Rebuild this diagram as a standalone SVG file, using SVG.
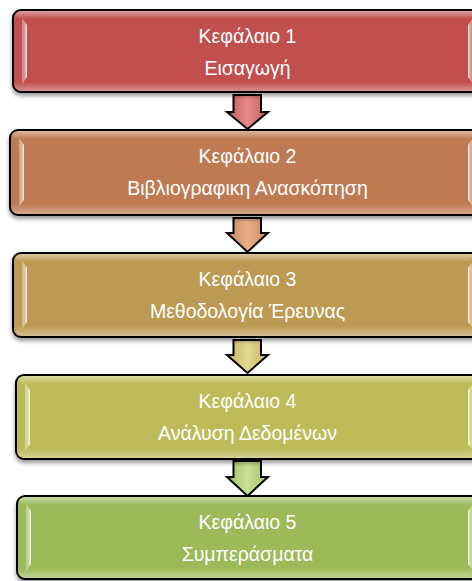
<svg xmlns="http://www.w3.org/2000/svg" width="472" height="581" viewBox="0 0 472 581">
  <defs>
    <filter id="shadow" x="-5%" y="-10%" width="110%" height="130%">
      <feDropShadow dx="0" dy="3" stdDeviation="2" flood-color="#000" flood-opacity="0.4"/>
    </filter>
    <!-- soft light band along the top and bottom inside the border -->
    <linearGradient id="edgeGlow" x1="0" y1="0" x2="0" y2="1">
      <stop offset="0" stop-color="#fff" stop-opacity="0.45"/>
      <stop offset="0.1" stop-color="#fff" stop-opacity="0"/>
      <stop offset="0.88" stop-color="#fff" stop-opacity="0"/>
      <stop offset="1" stop-color="#fff" stop-opacity="0.35"/>
    </linearGradient>
    <!-- bevel strips at the left and right ends -->
    <linearGradient id="bevelL" x1="0" y1="0" x2="1" y2="0">
      <stop offset="0" stop-color="#fff" stop-opacity="0.3"/>
      <stop offset="0.6" stop-color="#fff" stop-opacity="0.45"/>
      <stop offset="1" stop-color="#fff" stop-opacity="0.95"/>
    </linearGradient>
    <linearGradient id="bevelR" x1="1" y1="0" x2="0" y2="0">
      <stop offset="0" stop-color="#fff" stop-opacity="0.3"/>
      <stop offset="0.6" stop-color="#fff" stop-opacity="0.45"/>
      <stop offset="1" stop-color="#fff" stop-opacity="0.95"/>
    </linearGradient>
    <!-- arrow fills: lighter in the middle -->
    <linearGradient id="arr1" x1="0" y1="0" x2="1" y2="0">
      <stop offset="0" stop-color="#c85a58"/>
      <stop offset="0.5" stop-color="#e48a88"/>
      <stop offset="1" stop-color="#c85a58"/>
    </linearGradient>
    <linearGradient id="arr2" x1="0" y1="0" x2="1" y2="0">
      <stop offset="0" stop-color="#c8875a"/>
      <stop offset="0.5" stop-color="#e6b088"/>
      <stop offset="1" stop-color="#c8875a"/>
    </linearGradient>
    <linearGradient id="arr3" x1="0" y1="0" x2="1" y2="0">
      <stop offset="0" stop-color="#c4b660"/>
      <stop offset="0.5" stop-color="#e2da90"/>
      <stop offset="1" stop-color="#c4b660"/>
    </linearGradient>
    <linearGradient id="arr4" x1="0" y1="0" x2="1" y2="0">
      <stop offset="0" stop-color="#a4c262"/>
      <stop offset="0.5" stop-color="#c8e096"/>
      <stop offset="1" stop-color="#a4c262"/>
    </linearGradient>
  </defs>
  <style>
    .box { stroke: #000; stroke-width: 2; filter: url(#shadow); }
    .glow { fill: url(#edgeGlow); }
    .bl { fill: url(#bevelL); }
    .br { fill: url(#bevelR); }
    .arrow { stroke: #000; stroke-width: 2; stroke-linejoin: miter; }
    .label { font-family: "Liberation Sans", Arial, sans-serif; font-size: 19.5px; fill: #fff; text-anchor: middle; }
  </style>

  <!-- connectors: down arrows between chapters -->
  <g id="connectors">
    <polygon class="arrow" fill="url(#arr1)" points="233.5,95 261,95 261,112 268,112 247.5,129 227,112 233.5,112"/>
    <polygon class="arrow" fill="url(#arr2)" points="233.5,218 261,218 261,233 268,233 247.5,252 227,233 233.5,233"/>
    <polygon class="arrow" fill="url(#arr3)" points="233.5,340 261,340 261,355 268,355 247.5,373 227,355 233.5,355"/>
    <polygon class="arrow" fill="url(#arr4)" points="233.5,461 261,461 261,477 268,477 247.5,496 227,477 233.5,477"/>
  </g>

  <g id="chapter1">
    <rect class="box" x="13" y="10" width="469" height="82" rx="8" fill="#c0504d"/>
    <rect class="glow" x="14" y="11" width="467" height="80" rx="7"/>
    <polygon class="bl" points="22,18 27,25 27,77 22,84"/>
    <polygon class="br" points="473,18 468,25 468,77 473,84"/>
    <text class="label" x="247.5" y="43">Κεφάλαιο 1</text>
    <text class="label" x="247.5" y="75">Εισαγωγή</text>
  </g>

  <g id="chapter2">
    <rect class="box" x="10" y="130" width="472" height="85" rx="8" fill="#be7a52"/>
    <rect class="glow" x="11" y="131" width="470" height="83" rx="7"/>
    <polygon class="bl" points="19,138 24,145 24,200 19,207"/>
    <polygon class="br" points="473,138 468,145 468,200 473,207"/>
    <text class="label" x="247.5" y="163">Κεφάλαιο 2</text>
    <text class="label" x="247.5" y="195">Βιβλιογραφικη Ανασκόπηση</text>
  </g>

  <g id="chapter3">
    <rect class="box" x="13" y="253" width="469" height="84" rx="8" fill="#bc9a52"/>
    <rect class="glow" x="14" y="254" width="467" height="82" rx="7"/>
    <polygon class="bl" points="22,261 27,268 27,322 22,329"/>
    <polygon class="br" points="473,261 468,268 468,322 473,329"/>
    <text class="label" x="247.5" y="286">Κεφάλαιο 3</text>
    <text class="label" x="247.5" y="318">Μεθοδολογία Έρευνας</text>
  </g>

  <g id="chapter4">
    <rect class="box" x="16" y="375" width="466" height="84" rx="8" fill="#bdbb58"/>
    <rect class="glow" x="17" y="376" width="464" height="82" rx="7"/>
    <polygon class="bl" points="25,383 30,390 30,444 25,451"/>
    <polygon class="br" points="473,383 468,390 468,444 473,451"/>
    <text class="label" x="247.5" y="408">Κεφάλαιο 4</text>
    <text class="label" x="247.5" y="440">Ανάλυση Δεδομένων</text>
  </g>

  <g id="chapter5">
    <rect class="box" x="17" y="496" width="465" height="83" rx="8" fill="#9cba5a"/>
    <rect class="glow" x="18" y="497" width="463" height="81" rx="7"/>
    <polygon class="bl" points="26,504 31,511 31,564 26,571"/>
    <polygon class="br" points="473,504 468,511 468,564 473,571"/>
    <text class="label" x="247.5" y="529">Κεφάλαιο 5</text>
    <text class="label" x="247.5" y="561">Συμπεράσματα</text>
  </g>
</svg>
